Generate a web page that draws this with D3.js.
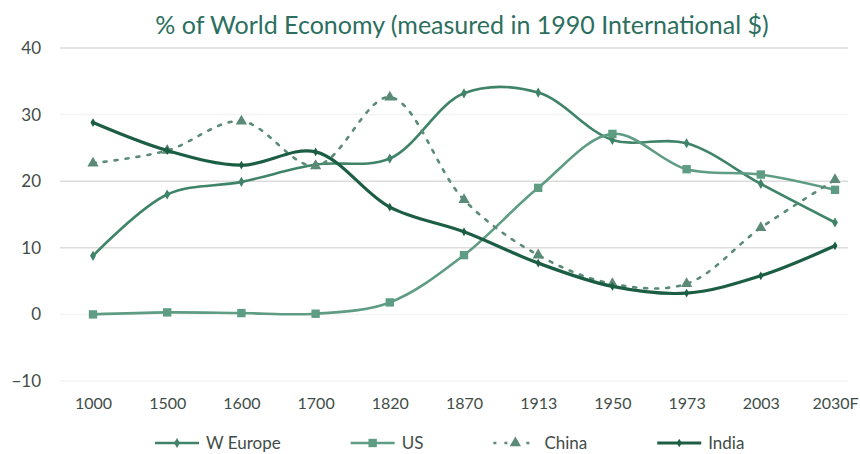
<!DOCTYPE html>
<html>
<head>
<meta charset="utf-8">
<script src="https://cdn.jsdelivr.net/npm/d3@7"></script>
<style>
  body { margin: 0; background: #fff; }
  svg { display: block; font-family: Lato, "Open Sans", sans-serif; }
</style>
</head>
<body>
<svg width="860" height="454"></svg>
<script>
// Data (% of world GDP)
const years = ["1000", "1500", "1600", "1700", "1820", "1870", "1913", "1950", "1973", "2003", "2030F"];
const wEurope = [8.8, 18.0, 19.9, 22.5, 23.4, 33.2, 33.3, 26.2, 25.7, 19.6, 13.8];
const us = [0, 0.3, 0.2, 0.1, 1.8, 8.9, 19.0, 27.1, 21.8, 21.0, 18.7];
const china = [22.7, 24.6, 29.0, 22.3, 32.6, 17.2, 8.9, 4.6, 4.6, 13.0, 20.2];
const india = [28.8, 24.6, 22.4, 24.4, 16.1, 12.4, 7.7, 4.2, 3.2, 5.8, 10.3];
const yTicks = [-10, 0, 10, 20, 30, 40];
const seriesNames = ["W Europe", "US", "China", "India"];

const svg = d3.select("svg");

const x = d3.scalePoint().domain(years).range([93, 835]);
const y = d3.scaleLinear().domain([-10, 40]).range([381, 48]);

// Title
svg.append("text")
  .attr("x", 462)
  .attr("y", 34)
  .attr("text-anchor", "middle")
  .style("font-size", "25px")
  .style("fill", "#2c6f60")
  .text("% of World Economy (measured in 1990 International $)");

// Gridlines
svg.append("g")
  .selectAll("line")
  .data(yTicks)
  .enter()
  .append("line")
  .attr("x1", 60)
  .attr("x2", 848)
  .attr("y1", (d) => y(d))
  .attr("y2", (d) => y(d))
  .attr("stroke", (d) => (d === 10 || d === 20 || d === 40 ? "#dcdcdc" : "#f3f3f3"))
  .attr("stroke-width", 1.5);

// Y axis
const yAxis = svg.append("g")
  .attr("transform", "translate(41,0)")
  .call(d3.axisLeft(y).tickValues(yTicks).tickSize(0).tickPadding(0));
yAxis.select(".domain").remove();
yAxis.selectAll("text")
  .style("font-size", "17px")
  .style("font-family", "Lato, sans-serif")
  .style("fill", "#3f4d48");

// X axis
const xAxis = svg.append("g")
  .attr("transform", "translate(0,398)")
  .call(d3.axisBottom(x).tickSize(0).tickPadding(0));
xAxis.select(".domain").remove();
xAxis.selectAll("text")
  .style("font-size", "16px")
  .style("font-family", "Lato, sans-serif")
  .style("fill", "#3f4d48");

// Series styling
const styles = [
  { values: wEurope, color: "#3f8468", width: 2.6, dash: null, marker: "diamond", size: 30 },
  { values: us, color: "#5e9c84", width: 2.6, dash: null, marker: "square", size: 70 },
  { values: china, color: "#5b8b77", width: 2.6, dash: "3,8", marker: "triangle", size: 55 },
  { values: india, color: "#1c5e44", width: 3.2, dash: null, marker: "diamond", size: 22 }
];

const symbolTypes = {
  diamond: d3.symbolDiamond,
  square: d3.symbolSquare,
  triangle: d3.symbolTriangle
};

const line = d3.line()
  .x((d, i) => x(years[i]))
  .y((d) => y(d))
  .curve(d3.curveCatmullRom.alpha(0.5));

styles.forEach((s) => {
  svg.append("path")
    .datum(s.values)
    .attr("fill", "none")
    .attr("stroke", s.color)
    .attr("stroke-width", s.width)
    .attr("stroke-dasharray", s.dash)
    .attr("stroke-linecap", "round")
    .attr("d", line);

  svg.append("g")
    .selectAll("path")
    .data(s.values)
    .enter()
    .append("path")
    .attr("transform", (d, i) => `translate(${x(years[i])},${y(d)})`)
    .attr("d", d3.symbol().type(symbolTypes[s.marker]).size(s.size))
    .attr("fill", s.color);
});

// Legend
const legend = svg.append("g").attr("transform", "translate(0,443)");
let lx = 155;
seriesNames.forEach((name, i) => {
  const s = styles[i];
  const item = legend.append("g").attr("transform", `translate(${lx},0)`);
  item.append("line")
    .attr("x1", 0)
    .attr("x2", 44)
    .attr("y1", 0)
    .attr("y2", 0)
    .attr("stroke", s.color)
    .attr("stroke-width", s.width)
    .attr("stroke-dasharray", s.dash);
  item.append("path")
    .attr("transform", "translate(22,0)")
    .attr("d", d3.symbol().type(symbolTypes[s.marker]).size(s.size))
    .attr("fill", s.color);
  const t = item.append("text")
    .attr("x", 51)
    .attr("y", 6)
    .style("font-size", "17px")
    .style("fill", "#3f4d48")
    .text(name);
  lx += 51 + t.node().getComputedTextLength() + 70;
});
</script>
</body>
</html>
